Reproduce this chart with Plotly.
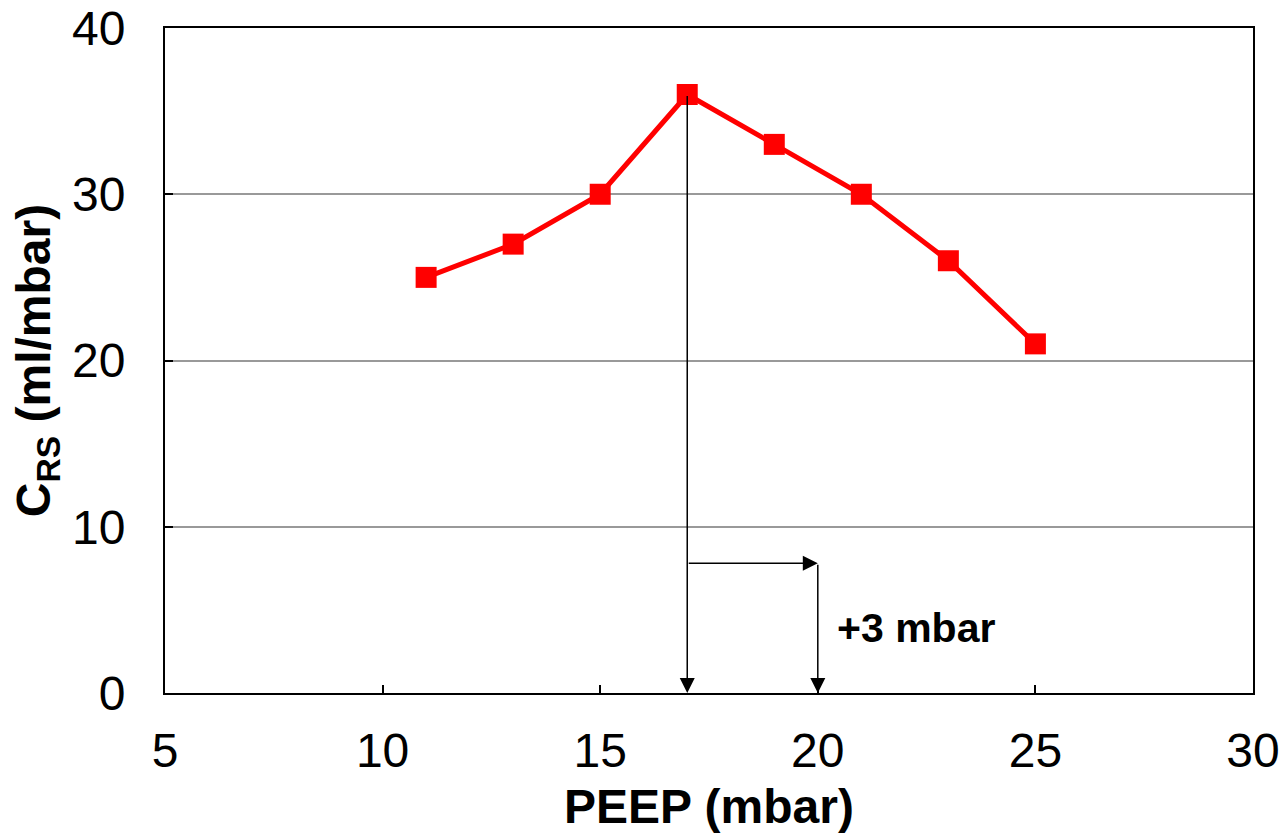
import plotly.graph_objects as go

peep = [11, 13, 15, 17, 19, 21, 23, 25]
crs = [25, 27, 30, 36, 33, 30, 26, 21]

optimal_peep = 17
optimal_crs = 36
final_peep = 20
bracket_level = 7.8
label_text = "+3 mbar"

FONT = "Liberation Sans, Arial, sans-serif"

fig = go.Figure()
fig.add_trace(go.Scatter(
    x=peep, y=crs, mode="lines+markers",
    line=dict(color="#ff0000", width=5),
    marker=dict(symbol="square", size=21, color="#ff0000"),
    showlegend=False, cliponaxis=False,
))

arrow_common = dict(xref="x", yref="y", axref="x", ayref="y", text="",
                    showarrow=True, arrowhead=2, arrowsize=2.0, arrowwidth=1.5,
                    arrowcolor="black", standoff=0, startstandoff=0)
fig.add_annotation(x=optimal_peep, y=0, ax=optimal_peep, ay=optimal_crs, **arrow_common)
fig.add_annotation(x=final_peep, y=bracket_level, ax=optimal_peep, ay=bracket_level, **arrow_common)
fig.add_annotation(x=final_peep, y=0, ax=final_peep, ay=bracket_level, **arrow_common)
fig.add_annotation(x=20.4, y=3.9, xref="x", yref="y", text="<b>" + label_text + "</b>",
                   showarrow=False, xanchor="left", yanchor="middle",
                   font=dict(family=FONT, size=41, color="black"))

fig.update_xaxes(range=[5, 30], dtick=5, tick0=5, showgrid=False, zeroline=False,
                 showline=True, linecolor="black", linewidth=2, mirror=True,
                 ticks="inside", ticklen=8, tickcolor="black", tickwidth=1.5,
                 ticklabelstandoff=14,
                 tickfont=dict(family=FONT, size=48, color="black"),
                 title=dict(text="<b>PEEP (mbar)</b>", font=dict(family=FONT, size=48, color="black"), standoff=14))
fig.update_yaxes(range=[0, 40], dtick=10, showgrid=True, gridcolor="#999999", gridwidth=1.5,
                 zeroline=False, showline=True, linecolor="black", linewidth=2, mirror=True,
                 ticks="inside", ticklen=8, tickcolor="black", tickwidth=1.5,
                 ticklabelstandoff=28,
                 tickfont=dict(family=FONT, size=48, color="black"),
                 title=dict(text="<b>C<sub>RS</sub> (ml/mbar)</b>", font=dict(family=FONT, size=48, color="black"), standoff=6))

fig.update_layout(
    width=1285, height=839,
    margin=dict(l=165, r=32, t=28, b=146, autoexpand=False),
    paper_bgcolor="white", plot_bgcolor="white",
)

fig.write_html("out.html")
